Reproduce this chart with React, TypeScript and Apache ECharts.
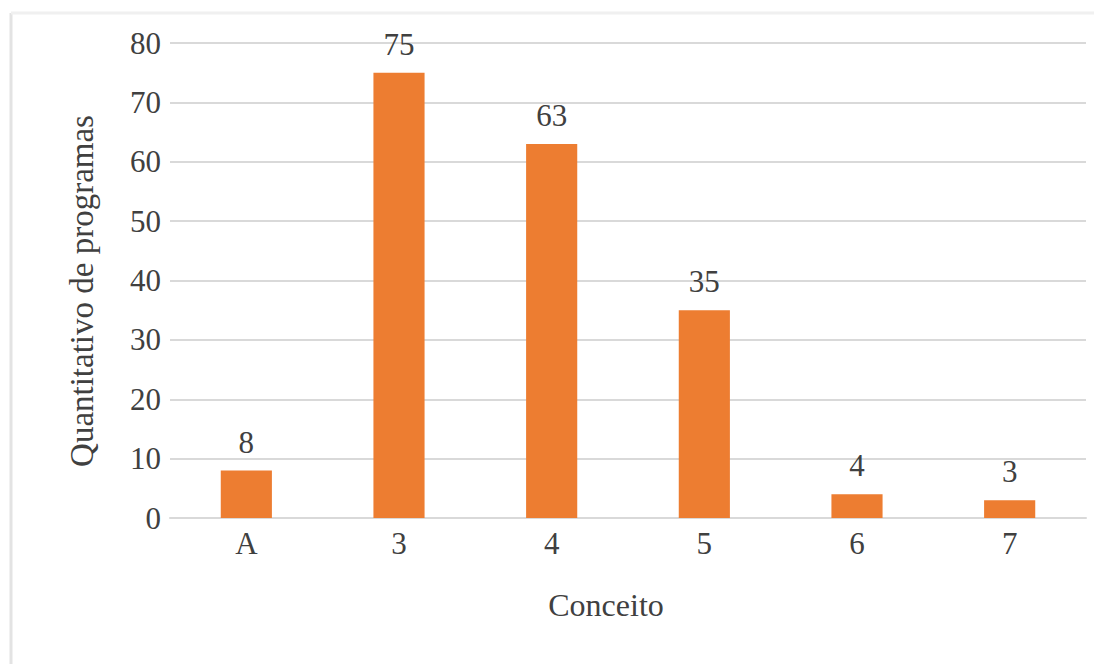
import React, { useEffect, useRef } from "react";
import * as echarts from "echarts";

const categories = ["A", "3", "4", "5", "6", "7"];
const programCounts = [8, 75, 63, 35, 4, 3];
const yTicks = { min: 0, max: 80, interval: 10 };

const xAxisTitle = "Conceito";
const yAxisTitle = "Quantitativo de programas";

const FONT = "'Liberation Serif', 'Times New Roman', serif";
const TEXT_COLOR = "#404040";
const GRID_COLOR = "#d9d9d9";
const BAR_COLOR = "#ED7D31";

export default function App() {
  const ref = useRef<HTMLDivElement>(null);

  useEffect(() => {
    if (!ref.current) return;
    const chart = echarts.init(ref.current, undefined, { renderer: "svg" });
    chart.setOption({
      animation: false,
      backgroundColor: "#ffffff",
      textStyle: { fontFamily: FONT },
      grid: { left: 170, right: 8, top: 43, bottom: 146, containLabel: false },
      xAxis: {
        type: "category",
        data: categories,
        axisLine: { show: true, lineStyle: { color: GRID_COLOR, width: 2 } },
        axisTick: { show: false },
        axisLabel: { fontFamily: FONT, fontSize: 31, color: TEXT_COLOR, margin: 10 },
      },
      yAxis: {
        type: "value",
        min: yTicks.min,
        max: yTicks.max,
        interval: yTicks.interval,
        axisLine: { show: false },
        axisTick: { show: false },
        axisLabel: { fontFamily: FONT, fontSize: 31, color: TEXT_COLOR, margin: 9 },
        splitLine: { show: true, lineStyle: { color: GRID_COLOR, width: 2 } },
      },
      series: [
        {
          type: "bar",
          data: programCounts,
          barWidth: "33.5%",
          itemStyle: { color: BAR_COLOR },
          label: {
            show: true,
            position: "top",
            distance: 13,
            fontFamily: FONT,
            fontSize: 31,
            color: TEXT_COLOR,
          },
        },
      ],
      graphic: [
        {
          type: "line",
          shape: { x1: 11, y1: 13, x2: 11, y2: 664 },
          style: { stroke: "#e3e3e3", lineWidth: 3 },
          silent: true,
        },
        {
          type: "line",
          shape: { x1: 11, y1: 13, x2: 1094, y2: 13 },
          style: { stroke: "#f0f0f0", lineWidth: 3 },
          silent: true,
        },
        {
          type: "text",
          x: 606,
          y: 605,
          style: {
            text: xAxisTitle,
            fontFamily: FONT,
            fontSize: 32,
            fill: TEXT_COLOR,
            textAlign: "center",
            textVerticalAlign: "middle",
          },
          silent: true,
        },
        {
          type: "text",
          x: 82,
          y: 291,
          rotation: Math.PI / 2,
          style: {
            text: yAxisTitle,
            fontFamily: FONT,
            fontSize: 33,
            fill: TEXT_COLOR,
            textAlign: "center",
            textVerticalAlign: "middle",
          },
          silent: true,
        },
      ],
    });
    return () => chart.dispose();
  }, []);

  return (
    <div
      ref={ref}
      style={{ position: "fixed", left: 0, top: 0, width: 1094, height: 664 }}
    />
  );
}
